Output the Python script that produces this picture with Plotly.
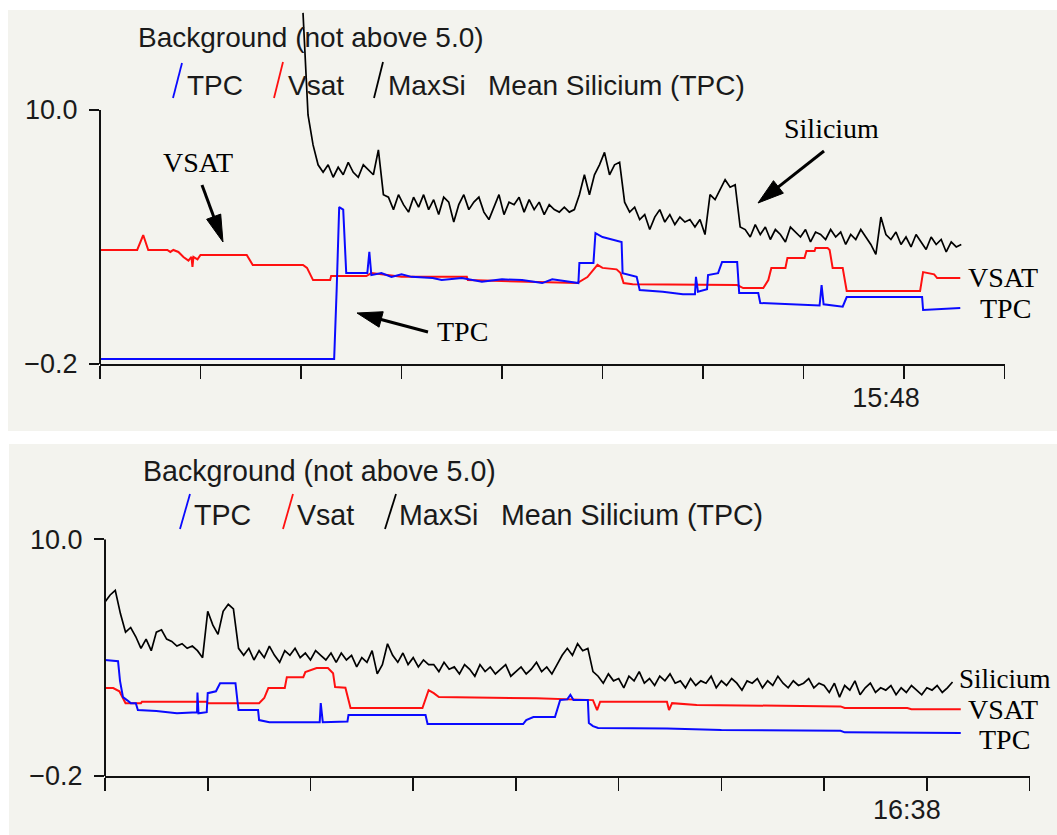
import math
import plotly.graph_objects as go

W, H = 1057, 835

# ---------------- data ----------------
# time axis: ticks every 10 minutes; panel start clock times
top_start_clock = "14:28"
bot_start_clock = "15:18"
tick_step_min = 10
n_ticks = 10
top_label_clock = "15:48"
bot_label_clock = "16:38"

ytick_vals = [-0.2, 10.0]
ytick_text = ["\u22120.2", "10.0"]

# MaxSi (black), sampled every 30 s
si_step_min = 0.5
top_si_first_min = 20.2          # minutes after top_start_clock
top_si = [13.9, 9.8, 8.6, 7.8,
          7.5, 7.8, 7.3, 7.7, 7.4, 7.9, 7.5, 7.3, 7.8, 7.6, 7.4,
          8.4, 6.6,
          6.5, 6.0, 6.6, 6.2, 5.9, 6.5, 6.1, 6.6, 6.0, 6.4,
          5.8, 6.5, 6.3, 5.5, 6.2, 6.6, 6.0, 6.3, 6.5, 5.9,
          5.6, 6.1, 6.6, 5.8, 6.3, 6.2, 6.5, 5.9, 6.4, 6.0,
          6.3, 5.8, 6.2, 6.0, 5.9, 6.1, 5.9, 6.0,
          6.6, 7.4, 6.6, 7.4, 7.8, 8.3, 7.4, 7.8, 7.9,
          6.3, 5.9, 6.1, 5.6, 5.8, 5.2,
          5.7, 6.0, 5.5, 5.8, 5.4, 5.7, 5.5, 5.6, 5.3, 5.6,
          5.0, 6.6, 6.4, 6.8, 7.2, 6.9, 7.0, 5.3,
          5.2, 4.9, 5.4, 5.0, 5.3, 4.8, 5.2, 5.0, 4.7, 5.3,
          5.1, 4.9, 5.2, 4.7, 5.1, 5.0, 4.8, 5.2, 4.9, 5.1,
          4.6, 5.0, 4.8, 5.2, 4.9, 4.6, 4.2, 5.7, 5.0, 4.8,
          5.1, 4.6, 4.9, 4.5, 5.0, 4.7, 4.4, 4.9, 4.6, 4.8, 4.3, 4.7, 4.5, 4.6]

bot_si_first_min = 0.0
bot_si = [7.3, 7.6, 7.8, 6.8,
          6.0, 6.2, 5.8, 5.3, 5.7, 5.2, 6.0, 6.1, 5.7, 5.6, 5.4, 5.5, 5.3, 5.4, 5.2, 4.9,
          6.9, 6.3, 5.9, 6.9, 7.2, 7.0, 5.3,
          5.0, 5.3, 4.8, 5.2, 4.9, 5.4, 5.0, 4.7, 5.2, 5.0, 5.3, 4.9, 5.1, 4.8, 5.2, 5.0, 4.8, 5.1,
          4.7, 5.1, 4.8, 5.0, 4.5, 4.9, 4.7, 5.2, 4.2, 4.6,
          5.5,
          5.0, 4.7, 5.1, 4.6, 4.9, 4.5, 4.8, 4.6,
          4.6, 4.3, 4.7, 4.4, 4.5, 4.2, 4.6, 4.4, 4.1, 4.6, 4.3, 4.5, 4.2, 4.4, 4.6, 4.1,
          4.3, 4.5, 4.2, 4.4, 4.7, 4.3, 4.5, 4.2, 4.6,
          5.0, 5.3, 5.0, 5.5, 5.2, 5.3, 4.3,
          4.1, 3.8, 4.2, 3.9, 4.0, 3.6, 4.1, 3.9, 4.3, 3.8, 4.0, 3.7, 4.1, 3.9, 4.2, 3.8,
          3.9, 3.6, 4.0, 3.7, 3.9, 3.8, 4.1, 3.6, 3.9, 3.7, 4.0, 3.8, 3.5, 3.9, 3.8,
          4.0, 3.6, 3.9, 3.7, 4.1, 3.8, 3.6, 3.9, 3.7, 3.8, 4.0, 3.6, 3.8, 3.7,
          3.4, 3.8, 3.2, 3.7, 3.5, 3.9, 3.3, 3.6, 3.8, 3.4, 3.6, 3.5, 3.7, 3.3, 3.6,
          3.4, 3.7, 3.5, 3.3, 3.6, 3.5, 3.7, 3.4, 3.6, 3.85]

# Vsat (red) — minutes after panel start, value
top_vsat_t = [0, 3.7, 4.3, 4.8, 6.7, 7.0, 7.3, 7.8, 8.3, 8.8, 9.1, 9.2, 9.3, 9.7, 10.0,
              14.6, 15.2, 20.2, 20.6, 21.2, 22.9, 23.0, 26.5, 27.0, 30.0, 36.5, 36.6,
              47.5, 48.5, 49.5, 50.0, 51.4, 51.8, 52.1, 53.0, 63.4, 64.0, 66.0, 66.5,
              66.8, 68.2, 68.4, 70.1, 70.3, 71.1, 71.2, 72.4, 72.6, 72.9, 73.9, 74.3,
              81.6, 81.9, 83.0, 83.3, 85.6]
top_vsat_v = [4.38, 4.38, 4.98, 4.38, 4.38, 4.3, 4.38, 4.3, 4.1, 3.95, 4.1, 3.7, 4.1, 4.0, 4.18,
              4.18, 3.78, 3.78, 3.66, 3.17, 3.17, 3.33, 3.33, 3.45, 3.3, 3.3, 3.17,
              3.05, 3.29, 3.78, 3.66, 3.6, 3.45, 3.05, 3.0, 2.97, 2.85, 2.85, 3.17,
              3.66, 3.66, 4.06, 4.06, 4.34, 4.34, 4.46, 4.46, 4.38, 3.66, 3.66, 2.73,
              2.73, 3.49, 3.4, 3.25, 3.25]

# TPC (blue)
top_tpc_t = [0, 23.3, 23.55, 23.8, 24.2, 24.5, 26.6, 26.8, 27.0, 28.0, 29.0, 30.0, 31.0,
             33.1, 34.0, 36.0, 38.0, 40.0, 42.0, 44.0, 45.0, 46.8, 47.6, 47.7, 49.1,
             49.3, 50.0, 51.9, 52.0, 53.4, 53.7, 56.0, 58.0, 59.2, 59.3, 59.5, 60.4,
             60.5, 61.5, 61.9, 63.4, 63.6, 65.5, 65.7, 71.6, 71.8, 72.0, 73.9, 74.3,
             81.8, 81.9, 85.6]
top_tpc_v = [0.0, 0.0, 2.8, 6.1, 6.0, 3.45, 3.45, 4.3, 3.37, 3.45, 3.3, 3.4, 3.3,
             3.25, 3.17, 3.25, 3.1, 3.2, 3.17, 3.05, 3.2, 3.1, 3.05, 3.86, 3.86,
             5.06, 4.9, 4.7, 3.45, 3.3, 2.77, 2.7, 2.6, 2.6, 3.3, 2.7, 2.8,
             3.37, 3.45, 3.9, 3.9, 2.65, 2.65, 2.25, 2.15, 2.97, 2.2, 2.1, 2.49,
             2.49, 1.97, 2.05]

bot_vsat_t = [0, 0.8, 1.4, 1.7, 2.0, 3.5, 3.6, 9.9, 10.0, 15.0, 15.5, 15.9, 17.5, 17.7,
              19.3, 19.5, 20.6, 21.7, 22.2, 22.4, 23.4, 23.9, 30.9, 31.5, 32.0, 32.5,
              42.0, 47.5, 47.9, 48.2, 54.7, 54.9, 55.2, 57.6, 71.6, 72.0, 78.1, 78.5, 83.3]
bot_vsat_v = [3.59, 3.59, 3.45, 3.16, 2.94, 2.94, 3.0, 3.0, 2.94, 2.94, 3.16, 3.59, 3.59, 4.06,
              4.06, 4.28, 4.45, 4.45, 4.23, 3.63, 3.6, 2.73, 2.73, 3.5, 3.37, 3.2,
              3.15, 3.07, 2.64, 3.0, 3.0, 2.64, 2.94, 2.86, 2.8, 2.73, 2.73, 2.68, 2.68]

bot_tpc_t = [0, 1.27, 1.46, 1.75, 2.2, 2.5, 3.0, 3.2, 5.0, 7.0, 8.96, 9.0, 9.1, 9.9, 10.0,
             10.8, 11.2, 12.7, 12.9, 13.0, 14.9, 15.0, 16.0, 20.9, 21.0, 21.2, 23.6, 23.7,
             31.2, 31.4, 40.7, 41.0, 41.7, 43.8, 44.3, 45.0, 45.3, 45.6, 47.0, 47.1, 47.5,
             48.0, 54.7, 60.0, 71.6, 72.0, 83.3]
bot_tpc_v = [4.8, 4.75, 3.9, 3.2, 3.05, 2.94, 2.94, 2.64, 2.6, 2.5, 2.55, 3.4, 2.5, 2.55, 3.37,
             3.45, 3.8, 3.8, 3.0, 2.64, 2.64, 2.21, 2.12, 2.12, 2.94, 2.12, 2.15, 2.43,
             2.43, 2.04, 2.04, 2.21, 2.34, 2.34, 3.07, 3.1, 3.3, 3.07, 3.07, 2.08, 1.95,
             1.87, 1.85, 1.78, 1.75, 1.68, 1.65]

# ---------------- helpers ----------------
def clock_to_min(s):
    h, m = s.split(":")
    return int(h) * 60 + int(m)

def min_to_clock(m):
    return "%d:%02d" % (int(m) // 60, int(m) % 60)

def px(x, y):
    return x / W, 1 - y / H

GRAY = "#f3f3ee"
BLUE = "#0a0aff"
RED = "#ff1010"
BLACK = "#000000"
SANS = "Liberation Sans, Arial, sans-serif"
SERIF = "Liberation Serif, Times New Roman, serif"

fig = go.Figure()

panels = [
    dict(start=top_start_clock, si_first=top_si_first_min, si=top_si,
         vt=top_vsat_t, vv=top_vsat_v, tt=top_tpc_t, tv=top_tpc_v, xa="x", ya="y"),
    dict(start=bot_start_clock, si_first=bot_si_first_min, si=bot_si,
         vt=bot_vsat_t, vv=bot_vsat_v, tt=bot_tpc_t, tv=bot_tpc_v, xa="x2", ya="y2"),
]

for p in panels:
    s0 = clock_to_min(p["start"])
    si_x = [s0 + p["si_first"] + si_step_min * i for i in range(len(p["si"]))]
    fig.add_trace(go.Scatter(x=[s0 + t for t in p["vt"]], y=p["vv"], mode="lines",
                             line=dict(color=RED, width=2), xaxis=p["xa"], yaxis=p["ya"],
                             showlegend=False, hoverinfo="skip"))
    fig.add_trace(go.Scatter(x=[s0 + t for t in p["tt"]], y=p["tv"], mode="lines",
                             line=dict(color=BLUE, width=2), xaxis=p["xa"], yaxis=p["ya"],
                             showlegend=False, hoverinfo="skip"))
    fig.add_trace(go.Scatter(x=si_x, y=p["si"], mode="lines",
                             line=dict(color=BLACK, width=1.7), xaxis=p["xa"], yaxis=p["ya"],
                             showlegend=False, hoverinfo="skip"))

def xaxis_cfg(start, label, dom, shift, anchor):
    s0 = clock_to_min(start)
    vals = [s0 + tick_step_min * k for k in range(n_ticks)]
    text = [min_to_clock(v) if min_to_clock(v) == label else "" for v in vals]
    return dict(domain=dom, range=[vals[0], vals[-1]], tickvals=vals, ticktext=text,
                showline=True, linecolor="#111", linewidth=2, ticks="outside",
                ticklen=13, tickwidth=1.6, tickcolor="#111", showgrid=False,
                zeroline=False, tickfont=dict(family=SANS, size=27, color="#1a1a1a"),
                ticklabelshift=shift, ticklabelstandoff=-4, fixedrange=True,
                anchor=anchor, automargin=False)

def yaxis_cfg(dom, rng, anchor):
    return dict(domain=dom, range=rng, tickvals=ytick_vals, ticktext=ytick_text,
                showline=False, ticks="outside", ticklen=10, tickwidth=1.6,
                tickcolor="#111", showgrid=False, zeroline=False, anchor=anchor,
                tickfont=dict(family=SANS, size=27, color="#1a1a1a"),
                ticklabelstandoff=6, fixedrange=True, automargin=False)

# pixel geometry of the two plot areas
top_x0, top_x1, top_ybot, top_ytop, top_scale = 100, 1004.5, 364, 10, 24.9
bot_x0, bot_x1, bot_ybot, bot_ytop = 105, 1029.6, 776, 539.3

fig.update_layout(
    width=W, height=H, margin=dict(l=0, r=0, t=0, b=0, pad=0, autoexpand=False), autosize=False,
    paper_bgcolor="white", plot_bgcolor="rgba(0,0,0,0)", showlegend=False,
    xaxis=xaxis_cfg(top_start_clock, top_label_clock, [top_x0 / W, top_x1 / W], -18, "y"),
    yaxis=yaxis_cfg([1 - top_ybot / H, 1 - top_ytop / H],
                    [-0.2, -0.2 + (top_ybot - top_ytop) / top_scale], "x"),
    xaxis2=xaxis_cfg(bot_start_clock, bot_label_clock, [bot_x0 / W, bot_x1 / W], -20, "y2"),
    yaxis2=yaxis_cfg([1 - bot_ybot / H, 1 - bot_ytop / H], [-0.2, 10.0], "x2"),
)

shapes = []
# gray panels
for (x0, y0, x1, y1) in [(8, 10, 1057, 431), (9, 444, 1057, 835)]:
    a, b = px(x0, y0)
    c, d = px(x1, y1)
    shapes.append(dict(type="rect", xref="paper", yref="paper", x0=a, y0=d, x1=c, y1=b,
                       fillcolor=GRAY, line=dict(width=0), layer="below"))
# y axis lines (only from -0.2 to 10.0)
for xr, yr in [("x domain", "y"), ("x2 domain", "y2")]:
    shapes.append(dict(type="line", xref=xr, yref=yr, x0=0, x1=0, y0=-0.2, y1=10.0,
                       line=dict(color="#111", width=2)))

# legend slashes
slashes = [((182, 63), (173, 98), BLUE), ((283, 62), (274, 98), RED), ((383, 62), (374, 98), BLACK),
           ((190, 494), (180, 529), BLUE), ((293, 494), (283, 529), RED), ((396, 494), (385, 529), BLACK)]
for (a, b, col) in slashes:
    p0 = px(*a)
    p1 = px(*b)
    shapes.append(dict(type="line", xref="paper", yref="paper", x0=p0[0], y0=p0[1],
                       x1=p1[0], y1=p1[1], line=dict(color=col, width=1.8)))

# arrows (tail, tip, head length, head half width)
def arrow(tail, tip, hl, hw):
    dx, dy = tip[0] - tail[0], tip[1] - tail[1]
    L = math.hypot(dx, dy)
    ux, uy = dx / L, dy / L
    bx, by = tip[0] - ux * hl, tip[1] - uy * hl
    nx, ny = -uy, ux
    q1 = (bx + nx * hw, by + ny * hw)
    q2 = (bx - nx * hw, by - ny * hw)
    t0 = px(*tail)
    b0 = px(bx + ux * 2, by + uy * 2)
    out = [dict(type="line", xref="paper", yref="paper", x0=t0[0], y0=t0[1],
                x1=b0[0], y1=b0[1], line=dict(color="black", width=3))]
    pts = [px(*tip), px(*q1), px(*q2)]
    path = "M %f,%f L %f,%f L %f,%f Z" % (pts[0][0], pts[0][1], pts[1][0], pts[1][1], pts[2][0], pts[2][1])
    out.append(dict(type="path", xref="paper", yref="paper", path=path,
                    fillcolor="black", line=dict(color="black", width=1)))
    return out

shapes += arrow((202, 185), (223, 242), 27, 7.5)
shapes += arrow((428, 332), (357, 313), 25, 8)
shapes += arrow((824, 151), (758, 203), 26, 8)

fig.update_layout(shapes=shapes)

annotations = []
def txt(s, x, y, size, family=SANS, color="#1a1a1a"):
    fx, fy = px(x, y)
    annotations.append(dict(text=s, x=fx, y=fy, xref="paper", yref="paper",
                            xanchor="left", yanchor="middle", showarrow=False,
                            borderpad=0, font=dict(family=family, size=size, color=color)))

# panel headers
txt("Background (not above 5.0)", 137, 38, 28)
txt("TPC", 186, 85, 28)
txt("Vsat", 287, 85, 28)
txt("MaxSi", 387, 85, 28)
txt("Mean Silicium (TPC)", 487, 85, 28)
txt("Background (not above 5.0)", 142, 471, 28.6)
txt("TPC", 193, 515, 28.6)
txt("Vsat", 296, 515, 28.6)
txt("MaxSi", 398, 515, 28.6)
txt("Mean Silicium (TPC)", 500, 515, 28.6)

# serif labels
txt("VSAT", 162, 162, 28, SERIF, "black")
txt("TPC", 436, 331, 28, SERIF, "black")
txt("Silicium", 783, 128, 28, SERIF, "black")
txt("VSAT", 967, 277, 28, SERIF, "black")
txt("TPC", 979, 308, 28, SERIF, "black")
txt("Silicium", 958, 679, 27, SERIF, "black")
txt("VSAT", 967, 709, 28, SERIF, "black")
txt("TPC", 978, 739, 28, SERIF, "black")

fig.update_layout(annotations=annotations)

fig.write_html("out.html", config={"displayModeBar": False, "staticPlot": True},
               post_script="document.body.style.margin='0';document.body.style.overflow='hidden';")
